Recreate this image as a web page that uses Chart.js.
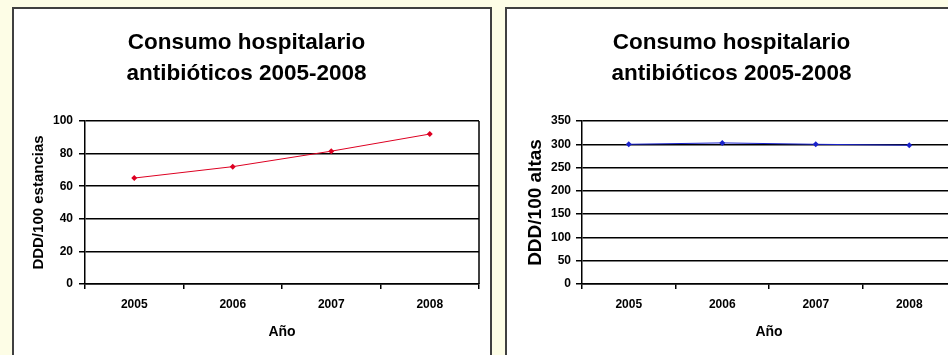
<!DOCTYPE html>
<html>
<head>
<meta charset="utf-8">
<script src="https://cdn.jsdelivr.net/npm/chart.js@4/dist/chart.umd.min.js"></script>
<style>
  html, body { margin: 0; padding: 0; }
  body { width: 948px; height: 355px; overflow: hidden; background: #fdfde6; position: relative; }
  .panel { position: absolute; top: 7px; height: 350px; background: #fff; border: 2px solid #404040; }
  #p1 { left: 12px; width: 476px; }
  #p2 { left: 505px; width: 458px; }
  canvas { display: block; }
</style>
</head>
<body>
<div class="panel" id="p1"><canvas id="c1" width="476" height="350"></canvas></div>
<div class="panel" id="p2"><canvas id="c2" width="458" height="350"></canvas></div>
<script>
// Consumo hospitalario de antibióticos, 2005-2008
const years = ['2005', '2006', '2007', '2008'];
const dddPorEstancias = [65, 72, 81.5, 92];
const dddPorAltas = [300, 303, 300, 298];
const titleLines = ['Consumo hospitalario', 'antibióticos 2005-2008'];
const xTitle = 'Año';
const yTitleEstancias = 'DDD/100 estancias';
const yTitleAltas = 'DDD/100 altas';

const FONT = "'Liberation Sans', Arial, sans-serif";

// frame on the right side of the plot area
const plotFrame = {
  id: 'plotFrame',
  afterDraw(chart) {
    const { ctx, chartArea: a } = chart;
    ctx.save();
    ctx.strokeStyle = '#000';
    ctx.lineWidth = 1.5;
    ctx.beginPath();
    ctx.moveTo(a.right, a.top);
    ctx.lineTo(a.right, a.bottom);
    ctx.stroke();
    ctx.restore();
  }
};

function makeChart(id, values, color, yMax, yStep, yTitle, yTitleSize, yTitlePad, yWidth, rightPad, tickPad) {
  return new Chart(document.getElementById(id), {
    type: 'line',
    data: {
      labels: years,
      datasets: [{
        data: values,
        borderColor: color,
        backgroundColor: color,
        borderWidth: 1,
        pointStyle: 'rectRot',
        pointRadius: 3,
        pointBorderWidth: 0,
        tension: 0
      }]
    },
    options: {
      responsive: false,
      animation: false,
      layout: { padding: { left: 0, right: rightPad, top: 0, bottom: 0 } },
      plugins: {
        legend: { display: false },
        tooltip: { enabled: false },
        title: {
          display: true,
          text: titleLines,
          color: '#000',
          font: { family: FONT, size: 22.5, weight: 'bold', lineHeight: 1.378 },
          padding: { top: 18.5, bottom: 31.5 }
        }
      },
      scales: {
        x: {
          offset: true,
          grid: { offset: true, drawOnChartArea: false, drawTicks: true, tickLength: 5, color: '#000', lineWidth: 1.5 },
          border: { color: '#000', width: 1.5 },
          ticks: { color: '#000', padding: 8, font: { family: FONT, size: 12, weight: 'bold' } },
          title: {
            display: true, text: xTitle, color: '#000',
            font: { family: FONT, size: 14, weight: 'bold' },
            padding: { top: 0, bottom: 18.6 }
          },
          afterFit(scale) { scale.height = 75; }
        },
        y: {
          min: 0, max: yMax,
          grid: { color: '#000', lineWidth: 1.5, tickLength: 6 },
          border: { color: '#000', width: 1.5 },
          ticks: { stepSize: yStep, color: '#000', padding: tickPad, font: { family: FONT, size: 12, weight: 'bold' } },
          title: {
            display: true, text: yTitle, color: '#000',
            font: { family: FONT, size: yTitleSize, weight: 'bold' },
            padding: { top: yTitlePad, bottom: 0 }
          },
          afterFit(scale) { scale.width = yWidth; }
        }
      }
    },
    plugins: [plotFrame]
  });
}

makeChart('c1', dddPorEstancias, '#dd0022', 100, 20, yTitleEstancias, 15, 16, 71, 11, 6);
makeChart('c2', dddPorAltas, '#1a22cc', 350, 50, yTitleAltas, 19, 17.3, 75, 9, 5);
</script>
</body>
</html>
